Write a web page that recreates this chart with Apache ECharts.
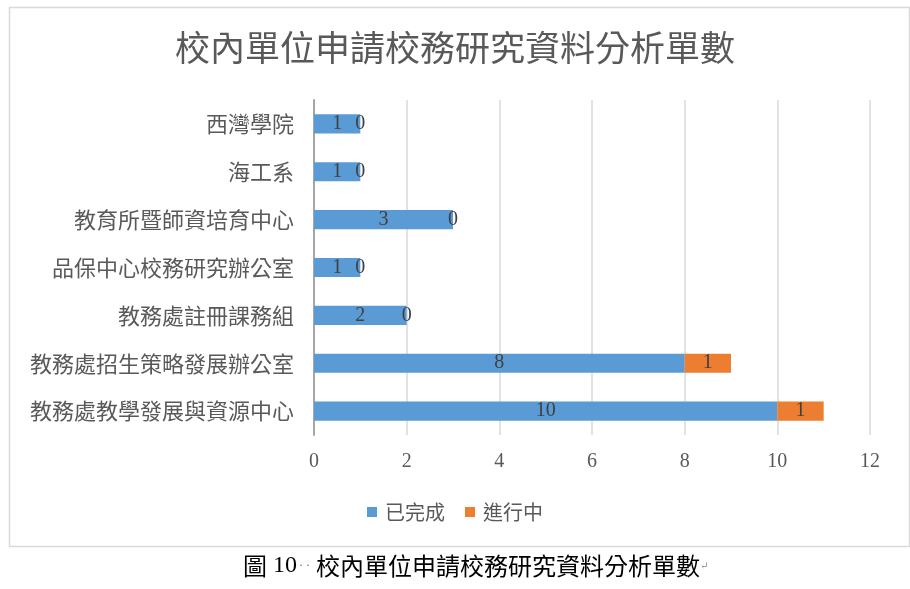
<!DOCTYPE html>
<html>
<head>
<meta charset="utf-8">
<script src="https://cdn.jsdelivr.net/npm/echarts@6/dist/echarts.min.js"></script>
<style>html,body{margin:0;padding:0;background:#fff;}#main{width:910px;height:589px;}</style>
</head>
<body>
<div id="main"></div>
<script>
const categories = ['教務處教學發展與資源中心', '教務處招生策略發展辦公室', '教務處註冊課務組', '品保中心校務研究辦公室', '教育所暨師資培育中心', '海工系', '西灣學院'];
const completed = [10, 8, 2, 1, 3, 1, 1];
const inProgress = [1, 1, 0, 0, 0, 0, 0];
const seriesNames = ['已完成', '進行中'];
const titleText = '校內單位申請校務研究資料分析單數';

const chart = echarts.init(document.getElementById('main'));
const CJK = '"Noto Sans CJK TC", "Noto Sans CJK SC", sans-serif';
const SERIF = '"Liberation Serif", "DejaVu Serif", serif';
const labelStyle = { show: true, position: 'inside', color: '#404040', fontFamily: SERIF, fontSize: 20 };
chart.setOption({
  backgroundColor: '#fff',
  animation: false,
  title: {
    text: titleText, left: 'center', top: 25,
    textStyle: { color: '#595959', fontFamily: CJK, fontSize: 35, fontWeight: 'normal' }
  },
  legend: {
    data: seriesNames, left: 'center', top: 497, itemWidth: 10, itemHeight: 10, itemGap: 20,
    icon: 'rect',
    textStyle: { color: '#595959', fontFamily: CJK, fontSize: 20, padding: [0, 0, 0, 3] }
  },
  grid: { left: 314, right: 40, top: 100, bottom: 154, containLabel: false },
  xAxis: {
    type: 'value', min: 0, max: 12, interval: 2,
    axisLine: { show: false }, axisTick: { show: false },
    splitLine: { show: true, lineStyle: { color: '#d9d9d9', width: 1.5 } },
    axisLabel: { color: '#595959', fontFamily: SERIF, fontSize: 20, margin: 17 }
  },
  yAxis: {
    type: 'category', data: categories,
    axisLine: { show: true, lineStyle: { color: '#a6a6a6', width: 2 } },
    axisTick: { show: false },
    axisLabel: { color: '#595959', fontFamily: CJK, fontSize: 22, margin: 20 }
  },
  series: [
    { name: seriesNames[0], type: 'bar', stack: 'a', data: completed, barWidth: '40%',
      itemStyle: { color: '#5B9BD5' }, label: labelStyle },
    { name: seriesNames[1], type: 'bar', stack: 'a', data: inProgress, barWidth: '40%',
      itemStyle: { color: '#ED7D31' }, label: labelStyle }
  ],
  graphic: [
    { type: 'rect', left: 7, top: 5, silent: true, z: -1,
      shape: { width: 900, height: 539 },
      style: { fill: 'none', stroke: '#d9d9d9', lineWidth: 1.5 } },
    { type: 'text', left: 243, top: 554,
      style: {
        text: '{a|圖}{n| 10}{d|· ·}{a|' + titleText + '}{r|↵}',
        rich: {
          a: { fontFamily: CJK, fontSize: 24, fill: '#000' },
          n: { fontFamily: SERIF, fontSize: 24, fill: '#000' },
          d: { fontFamily: SERIF, fontSize: 12, fill: '#666', padding: [0, 6, 0, 2] },
          r: { fontFamily: SERIF, fontSize: 10, fill: '#888' }
        }
      } }
  ]
});
</script>
</body>
</html>
